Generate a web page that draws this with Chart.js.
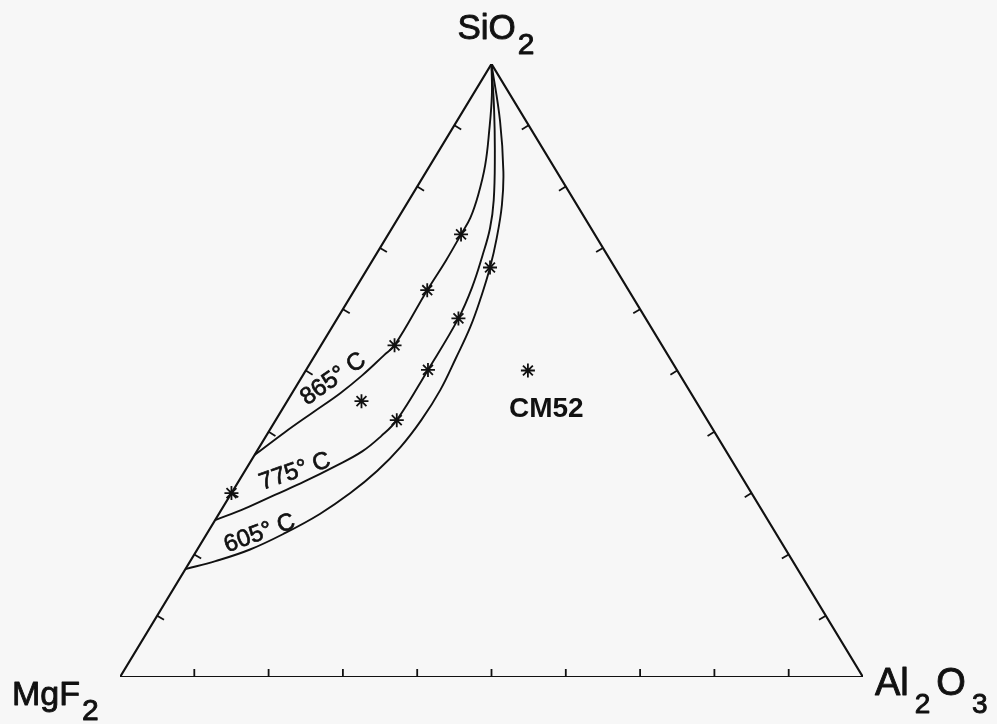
<!DOCTYPE html>
<html>
<head>
<meta charset="utf-8">
<script src="https://cdn.jsdelivr.net/npm/chart.js@4"></script>
<style>
  html, body { margin: 0; padding: 0; background: #f7f7f7; }
  #wrap { width: 997px; height: 724px; }
</style>
</head>
<body>
<div id="wrap"><canvas id="chart" width="997" height="724"></canvas></div>
<script>
// Ternary system SiO2 – MgF2 – Al2O3, compositions in wt% given as [SiO2, Al2O3]
// (MgF2 is the remainder).
const vertexLabels = ['SiO2', 'MgF2', 'Al2O3'];
const tickPercents = [10, 20, 30, 40, 50, 60, 70, 80, 90];
const isothermNames = ['865° C', '775° C', '605° C'];

// Phase boundaries running from the SiO2 corner to the SiO2–MgF2 join
const boundary865 = [[100, 0], [94.9, 2.6], [89.2, 5.1], [83.5, 7.4], [78.6, 8.9], [74.9, 9.7],
  [72.2, 9.8], [68.0, 9.9], [63.1, 9.8], [54.1, 9.9], [52.5, 9.3], [49.2, 8.0], [46.3, 6.5],
  [43.2, 4.4], [39.9, 2.2], [36.2, 0]];
const boundary775 = [[100, 0], [92.5, 4.1], [85.1, 7.9], [77.8, 11.4], [73.2, 13.2], [68.8, 14.4],
  [63.6, 15.6], [58.5, 16.3], [50.1, 16.4], [41.9, 16.3], [39.3, 15.5], [36.8, 14.2], [34.4, 11.8],
  [31.9, 8.9], [29.7, 6.0], [27.5, 3.1], [25.6, 0]];
const boundary605 = [[100, 0], [90.7, 5.8], [82.4, 10.4], [77.0, 12.9], [71.6, 14.9], [66.8, 16.4],
  [62.0, 17.6], [57.1, 18.6], [52.0, 19.2], [46.8, 19.7], [41.9, 19.6], [37.5, 19.0], [33.6, 17.8],
  [30.0, 16.0], [26.6, 13.6], [23.5, 10.5], [20.8, 7.1], [18.9, 3.4], [17.6, 0]];

// Measured sample compositions
const samplePoints = [[72.2, 9.8], [63.1, 9.8], [54.1, 9.9], [45.0, 10.0],
  [58.5, 16.3], [50.1, 16.4], [41.9, 16.3], [66.8, 16.4], [30.0, 0]];
const cm52Name = 'CM52';
const cm52Point = [[50.0, 29.9]];

// wt% -> plot coordinates (x along MgF2→Al2O3 base, y = SiO2 fraction)
function toXY(p) { return { x: p[1] / 100 + p[0] / 200, y: p[0] / 100 }; }

const INK = '#111';
const FONT = '"Liberation Sans", Arial, Helvetica, sans-serif';

function inkText(ctx, s, x, y, weight) {
  ctx.fillText(s, x, y);
  if (weight > 0) { ctx.lineWidth = weight; ctx.strokeText(s, x, y); }
}

function drawFormula(ctx, str, x, y, size, subSize, drop, gap) {
  let cx = x;
  for (const ch of str) {
    const sub = /\d/.test(ch);
    ctx.font = `${sub ? subSize : size}px ${FONT}`;
    if (sub) cx += gap;
    inkText(ctx, ch, cx, sub ? y + drop : y, 0.9);
    cx += ctx.measureText(ch).width + (sub ? gap : 0);
  }
}

const ternaryDecor = {
  id: 'ternaryDecor',
  afterDatasetsDraw(chart) {
    const { ctx, scales: { x, y } } = chart;
    const px = (p) => { const q = toXY(p); return [x.getPixelForValue(q.x), y.getPixelForValue(q.y)]; };
    const apex = px([100, 0]), left = px([0, 0]), right = px([0, 100]);
    const cx = (apex[0] + left[0] + right[0]) / 3, cy = (apex[1] + left[1] + right[1]) / 3;

    // inward-pointing unit normal of an edge
    const normal = (a, b) => {
      let nx = -(b[1] - a[1]), ny = b[0] - a[0];
      const len = Math.hypot(nx, ny); nx /= len; ny /= len;
      const mx = (a[0] + b[0]) / 2, my = (a[1] + b[1]) / 2;
      if ((cx - mx) * nx + (cy - my) * ny < 0) { nx = -nx; ny = -ny; }
      return [nx, ny];
    };
    const nBase = normal(left, right), nLeft = normal(left, apex), nRight = normal(right, apex);

    ctx.save();
    ctx.strokeStyle = INK;
    ctx.lineWidth = 1.8;
    const tickLen = 8;
    for (const t of tickPercents) {
      const marks = [[px([0, t]), nBase], [px([t, 0]), nLeft], [px([t, 100 - t]), nRight]];
      for (const [p, n] of marks) {
        ctx.beginPath();
        ctx.moveTo(p[0], p[1]);
        ctx.lineTo(p[0] + n[0] * tickLen, p[1] + n[1] * tickLen);
        ctx.stroke();
      }
    }

    // corner labels
    ctx.fillStyle = INK;
    ctx.lineJoin = 'round';
    ctx.textBaseline = 'alphabetic';
    ctx.textAlign = 'left';
    drawFormula(ctx, vertexLabels[0], apex[0] - 34, apex[1] - 25, 35, 30, 15, 2);
    drawFormula(ctx, vertexLabels[1], left[0] - 108, left[1] + 28, 34, 30, 15, 2);
    drawFormula(ctx, vertexLabels[2], right[0] + 12, right[1] + 18, 38, 28, 18, 6);

    // isotherm labels along the boundaries
    const isoAnchors = [[48.6, 4.4, -35], [33.5, 6.8, -19], [23.4, 7.1, -20]];
    ctx.font = `24px ${FONT}`;
    ctx.textAlign = 'center';
    ctx.textBaseline = 'middle';
    isothermNames.forEach((name, i) => {
      const [si, al, ang] = isoAnchors[i];
      const p = px([si, al]);
      ctx.save();
      ctx.translate(p[0], p[1]);
      ctx.rotate(ang * Math.PI / 180);
      inkText(ctx, name, 0, 0, 0.7);
      ctx.restore();
    });

    // CM52 sample name
    const c = px(cm52Point[0]);
    ctx.font = `bold 28px ${FONT}`;
    ctx.textAlign = 'left';
    ctx.textBaseline = 'alphabetic';
    inkText(ctx, cm52Name, c[0] - 19, c[1] + 46, 0);
    ctx.restore();
  }
};

const lineSet = (pts) => ({
  data: pts.map(toXY), showLine: true, tension: 0.4, pointRadius: 0,
  borderColor: INK, borderWidth: 1.9, fill: false
});

new Chart(document.getElementById('chart'), {
  type: 'scatter',
  data: {
    datasets: [
      { data: [[0, 0], [0, 100], [100, 0], [0, 0]].map(toXY), showLine: true, tension: 0,
        pointRadius: 0, borderColor: INK, borderWidth: 2.2, fill: false },
      lineSet(boundary865),
      lineSet(boundary775),
      lineSet(boundary605),
      { data: samplePoints.concat(cm52Point).map(toXY), showLine: false, pointStyle: 'star',
        pointRadius: 7, pointBorderWidth: 1.8, pointBorderColor: INK, pointBackgroundColor: INK }
    ]
  },
  options: {
    responsive: false,
    animation: false,
    events: [],
    layout: { padding: { left: 120, right: 134, top: 64, bottom: 47 } },
    scales: {
      x: { type: 'linear', min: 0, max: 1, display: false },
      y: { type: 'linear', min: 0, max: 1, display: false }
    },
    plugins: { legend: { display: false }, tooltip: { enabled: false } }
  },
  plugins: [ternaryDecor]
});
</script>
</body>
</html>
